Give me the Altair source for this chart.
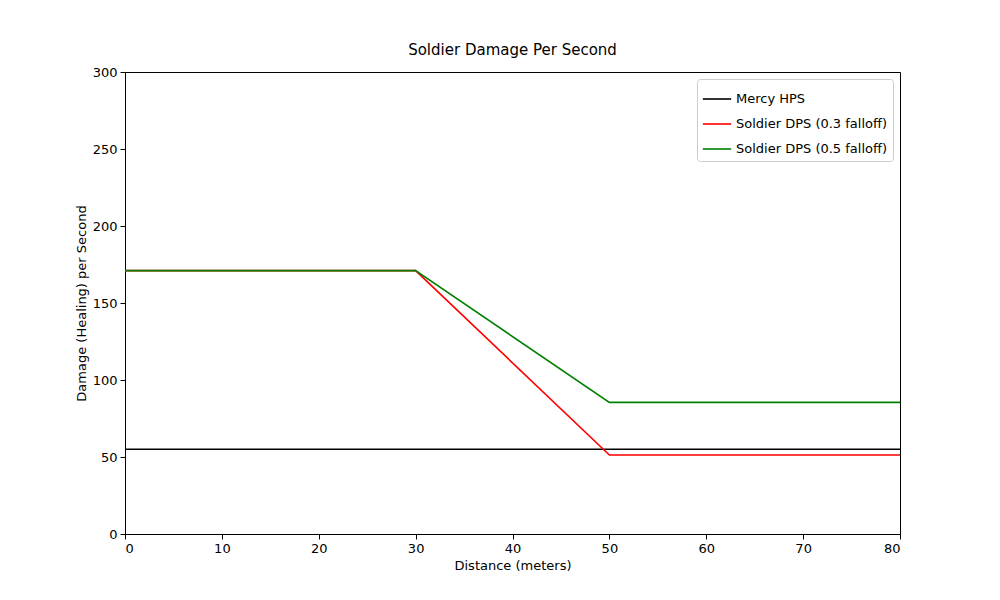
import altair as alt
import pandas as pd

distance = [0, 30, 50, 80]
mercy_hps = [55.0, 55.0, 55.0, 55.0]
soldier_03 = [171.0, 171.0, 51.3, 51.3]
soldier_05 = [171.0, 171.0, 85.5, 85.5]

series = ["Mercy HPS", "Soldier DPS (0.3 falloff)", "Soldier DPS (0.5 falloff)"]
colors = ["#000000", "#ff0000", "#008000"]

rows = []
for name, vals in zip(series, [mercy_hps, soldier_03, soldier_05]):
    for d, v in zip(distance, vals):
        rows.append({"distance": d, "value": v, "series": name})
df = pd.DataFrame(rows)

font = "DejaVu Sans"

chart = (
    alt.Chart(df, title=alt.Title("Soldier Damage Per Second", fontSize=15, fontWeight="normal", font=font, offset=8))
    .mark_line(strokeWidth=1.6)
    .encode(
        x=alt.X("distance:Q", title="Distance (meters)",
                scale=alt.Scale(domain=[0, 80], nice=False),
                axis=alt.Axis(values=list(range(0, 81, 10)), grid=False)),
        y=alt.Y("value:Q", title="Damage (Healing) per Second",
                scale=alt.Scale(domain=[0, 300], nice=False),
                axis=alt.Axis(values=list(range(0, 301, 50)), grid=False)),
        color=alt.Color("series:N", scale=alt.Scale(domain=series, range=colors),
                        legend=alt.Legend(title=None, orient="top-right", symbolType="stroke",
                                          symbolSize=800, symbolStrokeWidth=1.6,
                                          labelFontSize=13, labelFont=font,
                                          strokeColor="#cccccc", fillColor="white",
                                          padding=5, cornerRadius=3, offset=7,
                                          rowPadding=3)),
        detail="series:N",
    )
    .properties(width=775, height=462, autosize=alt.AutoSizeParams(type="none"),
                padding={"left": 117, "top": 64, "right": 92, "bottom": 58})
    .configure_view(stroke="black", strokeWidth=1)
    .configure_axis(labelFont=font, titleFont=font, labelFontSize=13, titleFontSize=13,
                    titleFontWeight="normal", domainColor="black", tickColor="black",
                    labelColor="black", titleColor="black", tickSize=5, labelPadding=3)
    .configure_title(anchor="middle", color="black")
)

chart.save("out.html", embed_options={"renderer": "svg", "actions": False})
